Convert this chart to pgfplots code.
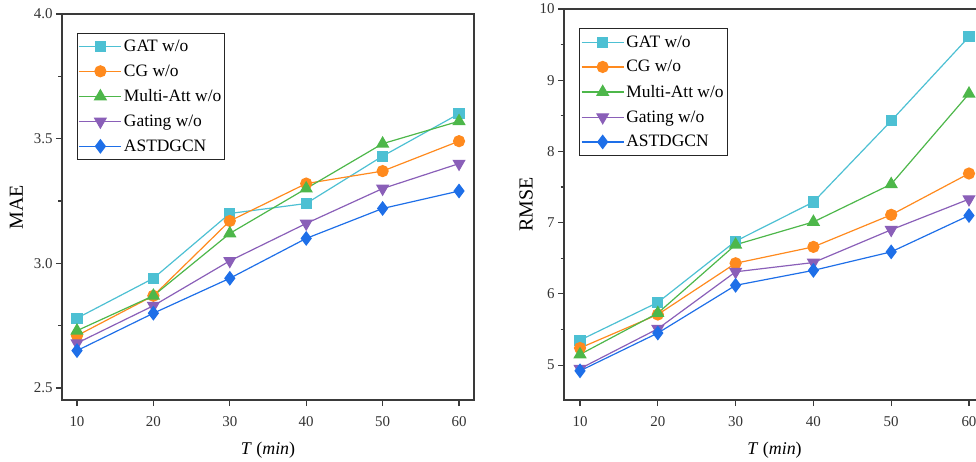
\documentclass[border=0pt]{standalone}
\usepackage{fontspec}
\setmainfont{Liberation Serif}
\usepackage{pgfplots}
\pgfplotsset{compat=1.18}

\definecolor{cgat}{HTML}{4DC0D3}
\definecolor{ccg}{HTML}{FF8A1E}
\definecolor{cmulti}{HTML}{4DB74A}
\definecolor{cgate}{HTML}{8A5FB8}
\definecolor{cast}{HTML}{1E6FE8}
\definecolor{frame}{HTML}{3A3A3A}

\pgfplotsset{
  abl/.style={
    scale only axis, anchor=south west,
    axis line style={frame, line width=1.4bp},
    tick style={frame, line width=1.2bp},
    major tick length=6bp, minor tick length=3.5bp,
    tick align=outside, xtick pos=left, ytick pos=left,
    xtick={10,20,30,40,50,60}, minor y tick num=1,
    /pgf/number format/assume math mode=true,
    tick label style={font=\fontsize{15}{17}\selectfont, text=black!80},
    xticklabel style={yshift=-7bp},
    label style={font=\fontsize{18}{20}\selectfont},
    ylabel style={font=\fontsize{20}{22}\selectfont},
    xlabel={\textit{T} (\textit{min})},
    xlabel style={yshift=-9bp},
    legend cell align=left,
    legend style={at={(0.036,0.952)}, anchor=north west, draw=black!85, line width=0.9bp,
      font=\fontsize{17.5}{20}\selectfont, inner xsep=1.5bp, inner ysep=5bp, row sep=7.8bp},
    legend image code/.code={\draw[mark repeat=2,mark phase=2] plot coordinates {(0bp,0bp)(21bp,0bp)(42bp,0bp)};},
    every axis plot/.append style={line width=1.2bp},
  },
  sgat/.style={cgat, mark=square*, mark size=5bp, mark options={solid}},
  scg/.style={ccg, mark=*, mark size=5.5bp},
  smulti/.style={cmulti, mark=triangle*, mark size=6.5bp},
  sgate/.style={cgate, mark=triangle*, mark size=6.5bp, every mark/.append style={rotate=180}},
  sast/.style={cast, mark=diamond*, mark size=6.5bp},
}

\begin{document}
\begin{tikzpicture}
\begin{axis}[abl, at={(62bp,62bp)}, width=412bp, height=386bp,
  xmin=8.04, xmax=61.96, ymin=2.452, ymax=4.0,
  ytick={2.5,3.0,3.5,4.0},
  yticklabel style={/pgf/number format/.cd, fixed, fixed zerofill, precision=1},
  ylabel={MAE}, ylabel style={yshift=4bp}]
\addplot[sgat] coordinates {(10,2.78)(20,2.94)(30,3.20)(40,3.24)(50,3.43)(60,3.60)};
\addlegendentry{GAT w/o}
\addplot[scg] coordinates {(10,2.71)(20,2.87)(30,3.17)(40,3.32)(50,3.37)(60,3.49)};
\addlegendentry{CG w/o}
\addplot[smulti] coordinates {(10,2.73)(20,2.87)(30,3.12)(40,3.30)(50,3.48)(60,3.57)};
\addlegendentry{Multi-Att w/o}
\addplot[sgate] coordinates {(10,2.68)(20,2.83)(30,3.01)(40,3.16)(50,3.30)(60,3.40)};
\addlegendentry{Gating w/o}
\addplot[sast] coordinates {(10,2.65)(20,2.80)(30,2.94)(40,3.10)(50,3.22)(60,3.29)};
\addlegendentry{ASTDGCN}
\end{axis}
\begin{axis}[abl, at={(564bp,62bp)}, width=421bp, height=391bp,
  xmin=7.94, xmax=62.06, ymin=4.51, ymax=10,
  ytick={5,6,7,8,9,10},
  ylabel={RMSE}, ylabel style={yshift=0bp},
  legend style={at={(0.036,0.951)}}]
\addplot[sgat] coordinates {(10,5.35)(20,5.88)(30,6.74)(40,7.29)(50,8.43)(60,9.61)};
\addlegendentry{GAT w/o}
\addplot[scg] coordinates {(10,5.24)(20,5.71)(30,6.43)(40,6.66)(50,7.11)(60,7.69)};
\addlegendentry{CG w/o}
\addplot[smulti] coordinates {(10,5.15)(20,5.73)(30,6.69)(40,7.01)(50,7.54)(60,8.81)};
\addlegendentry{Multi-Att w/o}
\addplot[sgate] coordinates {(10,4.95)(20,5.51)(30,6.31)(40,6.44)(50,6.90)(60,7.33)};
\addlegendentry{Gating w/o}
\addplot[sast] coordinates {(10,4.92)(20,5.45)(30,6.12)(40,6.33)(50,6.59)(60,7.10)};
\addlegendentry{ASTDGCN}
\end{axis}
\pgfresetboundingbox
\path[use as bounding box] (0bp,0bp) rectangle (976bp,462bp);
\end{tikzpicture}
\end{document}
